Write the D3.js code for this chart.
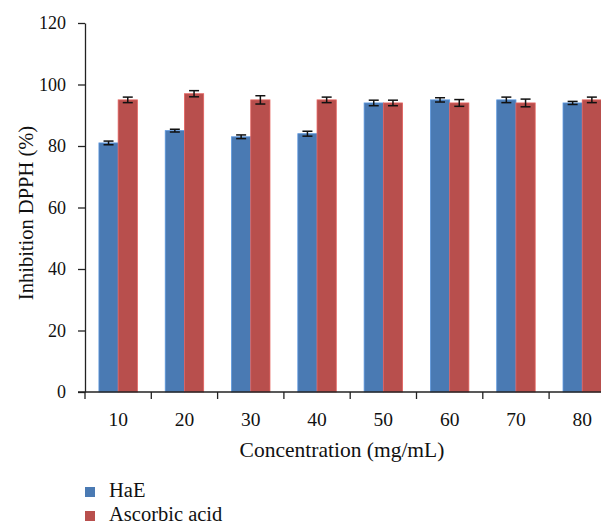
<!DOCTYPE html>
<html><head><meta charset="utf-8">
<script src="https://cdn.jsdelivr.net/npm/d3@7"></script>
<style>body{margin:0;background:#fff}svg{display:block}text{font-family:"Liberation Serif","Times New Roman",serif;fill:#111}</style>
</head><body>
<script>
const categories = ["10","20","30","40","50","60","70","80"];
const seriesNames = ["HaE","Ascorbic acid"];
const hae = [81,85,83,84,94,95,95,94];
const haeErr = [0.6,0.45,0.6,0.8,0.9,0.7,0.9,0.5];
const asc = [95,97,95,95,94,94,94,95];
const ascErr = [0.9,1.0,1.35,0.9,0.9,1.1,1.25,0.9];
const yTicks = [0,20,40,60,80,100,120];
const colors = ["#4a7ab3","#b84f4d"];

(function(){
const W=601,H=524;
const FF='"Liberation Serif",serif';
const svg=d3.select("body").append("svg").attr("width",W).attr("height",H).attr("font-family",FF);
const mLeft=85, mBottom=392, mTop=23, bw=66.3;
const x=d3.scaleBand().domain(categories).range([mLeft,mLeft+bw*categories.length]).padding(0);
const x1=d3.scaleBand().domain(seriesNames).range([x.bandwidth()*0.21,x.bandwidth()*0.79]).padding(0);
const y=d3.scaleLinear().domain([0,120]).range([mBottom,mTop]);

const data=categories.map((c,i)=>({c,vals:[{s:seriesNames[0],v:hae[i],e:haeErr[i]},{s:seriesNames[1],v:asc[i],e:ascErr[i]}]}));

const g=svg.append("g");
const grp=g.selectAll("g.grp").data(data).join("g").attr("transform",d=>`translate(${x(d.c)},0)`);
grp.selectAll("rect").data(d=>d.vals).join("rect")
 .attr("x",d=>x1(d.s)).attr("width",x1.bandwidth())
 .attr("y",d=>y(d.v)).attr("height",d=>y(0)-y(d.v))
 .attr("fill",(d,i)=>colors[i]).attr("stroke",(d,i)=>d3.color(colors[i]).brighter(0.6)).attr("stroke-width",0.8);
grp.each(function(d){
  const gg=d3.select(this);
  d.vals.forEach(v=>{
    const cx=x1(v.s)+x1.bandwidth()/2;
    const y1=y(v.v+v.e), y2=y(v.v-v.e);
    gg.append("line").attr("x1",cx).attr("x2",cx).attr("y1",y1).attr("y2",y2).attr("stroke","#111").attr("stroke-width",1.5);
    [y1,y2].forEach(yy=>gg.append("line").attr("x1",cx-5).attr("x2",cx+5).attr("y1",yy).attr("y2",yy).attr("stroke","#111").attr("stroke-width",1.5));
  });
});

const ya=svg.append("g").attr("transform",`translate(${mLeft},0)`)
 .call(d3.axisLeft(y).tickValues(yTicks).tickSize(7).tickPadding(12).tickSizeOuter(0))
 .attr("font-family",FF).attr("font-size",18);
ya.select(".domain").attr("stroke","#222").attr("stroke-width",1.3);
ya.selectAll(".tick line").attr("stroke","#222").attr("stroke-width",1.3);
ya.selectAll("text").attr("fill","#111");

const xa=svg.append("g").attr("transform",`translate(0,${mBottom})`)
 .call(d3.axisBottom(x).tickSize(0).tickPadding(20).tickSizeOuter(0))
 .attr("font-family",FF).attr("font-size",19.5);
xa.select(".domain").remove();
xa.append("line").attr("x1",mLeft-7).attr("x2",W).attr("y1",0).attr("y2",0).attr("stroke","#222").attr("stroke-width",1.3);
xa.selectAll(".bnd").data(categories).join("line").attr("class","bnd")
 .attr("x1",d=>x(d)).attr("x2",d=>x(d)).attr("y1",0).attr("y2",7).attr("stroke","#222").attr("stroke-width",1.3);
xa.selectAll("text").attr("fill","#111");

svg.append("text").attr("x",342).attr("y",457).attr("text-anchor","middle").style("font-size","21.5px").text("Concentration (mg/mL)");
svg.append("text").attr("transform","translate(33,213) rotate(-90)").attr("text-anchor","middle").style("font-size","20.5px").text("Inhibition DPPH (%)");

const lg=svg.append("g");
seriesNames.forEach((s,i)=>{
  lg.append("rect").attr("x",85).attr("y",487+i*24).attr("width",10).attr("height",10).attr("fill",colors[i]);
  lg.append("text").attr("x",109).attr("y",497+i*24).style("font-size","20.5px").text(s);
});
})();
</script>
</body></html>
